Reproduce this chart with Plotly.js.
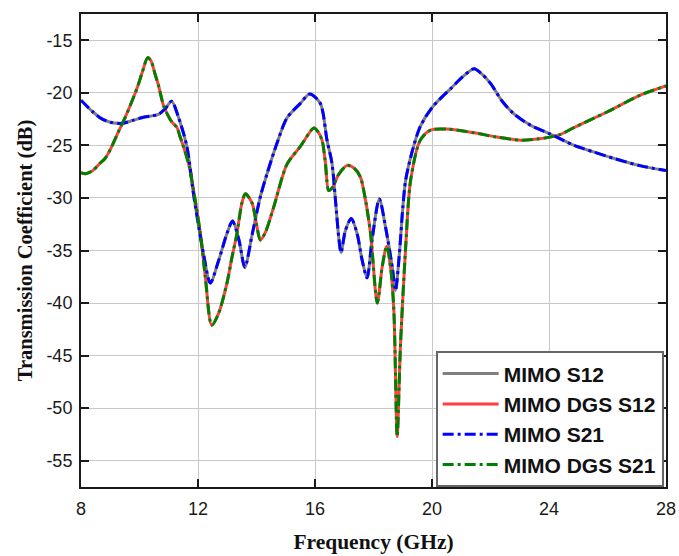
<!DOCTYPE html>
<html>
<head>
<meta charset="utf-8">
<script src="https://cdn.plot.ly/plotly-3.0.1.min.js"></script>
<style>html,body{margin:0;padding:0;background:#fff;}#chart{width:679px;height:556px;}</style>
</head>
<body>
<div id="chart"></div>
<script>
// MIMO (S12 and S21 coincide)
var mimoFreq = [8.0, 8.4, 8.7, 9.0, 9.4, 9.8, 10.1, 10.4, 10.65, 10.88, 11.1, 11.33, 11.62, 11.84, 12.0, 12.2, 12.42, 12.7, 13.0, 13.18, 13.4, 13.6, 13.85, 14.13, 14.36, 14.7, 15.04, 15.5, 15.82, 16.18, 16.41, 16.58, 16.70, 16.81, 16.89, 17.04, 17.24, 17.44, 17.61, 17.78, 17.95, 18.2, 18.41, 18.64, 18.75, 18.88, 19.0, 19.1, 19.33, 19.6, 20.03, 20.64, 21.0, 21.44, 21.7, 22.0, 22.4, 22.8, 23.38, 24.03, 24.86, 25.5, 26.23, 27.14, 28.0];
var mimoS12 = [-20.7, -21.8, -22.45, -22.8, -22.9, -22.6, -22.35, -22.2, -22.05, -21.5, -20.8, -22.3, -25.1, -29.5, -32.3, -35.5, -38.1, -36.0, -33.3, -32.2, -34.0, -36.6, -33.5, -29.9, -27.7, -24.8, -22.4, -21.0, -20.1, -21.0, -24.5, -26.7, -30.2, -33.7, -35.2, -33.1, -31.95, -33.4, -35.9, -37.6, -34.0, -30.1, -32.75, -36.55, -38.8, -35.5, -31.0, -28.3, -25.5, -23.2, -21.3, -19.6, -18.6, -17.7, -18.2, -19.1, -20.8, -22.0, -23.1, -23.9, -25.0, -25.6, -26.25, -26.95, -27.4];
var mimoS21 = mimoS12.slice();

// MIMO with DGS (S12 and S21 coincide)
var dgsFreq = [8.0, 8.15, 8.4, 8.65, 8.82, 9.0, 9.28, 9.5, 9.8, 9.96, 10.1, 10.28, 10.4, 10.53, 10.65, 10.82, 10.93, 11.1, 11.28, 11.39, 11.56, 11.7, 11.85, 12.08, 12.25, 12.47, 12.7, 12.99, 13.15, 13.33, 13.5, 13.62, 13.85, 14.0, 14.13, 14.3, 14.59, 15.04, 15.5, 15.96, 16.1, 16.24, 16.35, 16.47, 16.6, 16.8, 17.1, 17.35, 17.55, 17.7, 17.9, 18.13, 18.3, 18.45, 18.6, 18.7, 18.81, 18.92, 19.1, 19.27, 19.6, 19.95, 20.52, 21.44, 22.2, 23.03, 23.6, 24.35, 24.86, 26.0, 27.14, 28.0];
var dgsS12 = [-27.6, -27.7, -27.4, -26.7, -26.25, -25.4, -23.7, -22.4, -20.4, -19.2, -18.0, -16.65, -17.0, -18.2, -19.3, -21.2, -21.9, -22.75, -23.3, -24.2, -25.6, -27.0, -29.3, -33.4, -37.5, -42.1, -41.0, -38.1, -35.8, -33.4, -30.5, -29.6, -30.5, -32.5, -34.0, -33.3, -30.85, -26.8, -25.1, -23.35, -23.7, -24.5, -26.5, -29.3, -29.0, -27.8, -26.9, -27.2, -28.0, -29.8, -33.4, -40.0, -36.5, -34.6, -37.0, -41.0, -52.7, -44.15, -34.65, -28.3, -24.5, -23.55, -23.45, -23.8, -24.2, -24.5, -24.4, -24.0, -23.3, -21.8, -20.2, -19.35];
var dgsS21 = dgsS12.slice();

var names = ['MIMO S12', 'MIMO DGS S12', 'MIMO S21', 'MIMO DGS S21'];
var xTicks = [8, 12, 16, 20, 24, 28];
var yTicks = [-55, -50, -45, -40, -35, -30, -25, -20, -15];

var dashDot = '11px,4px,3px,4px';
var traces = [
  {x: mimoFreq, y: mimoS12, name: names[0], mode: 'lines', line: {color: '#7f7f7f', width: 3, shape: 'spline', smoothing: 0.8}},
  {x: dgsFreq, y: dgsS12, name: names[1], mode: 'lines', line: {color: '#ff4040', width: 3, shape: 'spline', smoothing: 0.8}},
  {x: mimoFreq, y: mimoS21, name: names[2], mode: 'lines', line: {color: '#0000ff', width: 3, dash: dashDot, shape: 'spline', smoothing: 0.8}},
  {x: dgsFreq, y: dgsS21, name: names[3], mode: 'lines', line: {color: '#008000', width: 3, dash: dashDot, shape: 'spline', smoothing: 0.8}}
];

var layout = {
  width: 679, height: 556,
  margin: {l: 81, r: 13, t: 14, b: 69},
  paper_bgcolor: '#fff', plot_bgcolor: '#fff',
  showlegend: true,
  xaxis: {
    range: [8, 28], tickvals: xTicks, ticktext: xTicks.map(String),
    showgrid: true, gridcolor: '#c8c8c8', gridwidth: 1,
    zeroline: false, showline: true, linecolor: '#1a1a1a', linewidth: 2, mirror: 'ticks',
    ticks: 'inside', ticklen: 8, tickwidth: 2, tickcolor: '#1a1a1a',
    ticklabelstandoff: 4,
    tickfont: {family: 'Liberation Sans, Arial, sans-serif', size: 18, color: '#1a1a1a'},
    title: {text: '<b>Frequency (GHz)</b>', standoff: 16, font: {family: 'Liberation Serif, Times New Roman, serif', size: 21.5, color: '#111'}}
  },
  yaxis: {
    range: [-57.5, -12.5], tickvals: yTicks, ticktext: yTicks.map(String),
    showgrid: true, gridcolor: '#c8c8c8', gridwidth: 1,
    zeroline: false, showline: true, linecolor: '#1a1a1a', linewidth: 2, mirror: 'ticks',
    ticks: 'inside', ticklen: 8, tickwidth: 2, tickcolor: '#1a1a1a',
    ticklabelstandoff: 3,
    tickfont: {family: 'Liberation Sans, Arial, sans-serif', size: 18, color: '#1a1a1a'},
    title: {text: '<b>Transmission Coefficient (dB)</b>', standoff: 8, font: {family: 'Liberation Serif, Times New Roman, serif', size: 20.5, color: '#111'}}
  },
  legend: {
    x: 0.996, xanchor: 'right', y: -0.001, yanchor: 'bottom',
    bgcolor: '#fff', bordercolor: '#666', borderwidth: 2,
    font: {family: 'Liberation Sans, Arial, sans-serif', size: 21, color: '#111', weight: 'bold'},
    itemwidth: 56, tracegroupgap: 0
  }
};

Plotly.newPlot('chart', traces, layout, {displayModeBar: false, staticPlot: true});
</script>
</body>
</html>
